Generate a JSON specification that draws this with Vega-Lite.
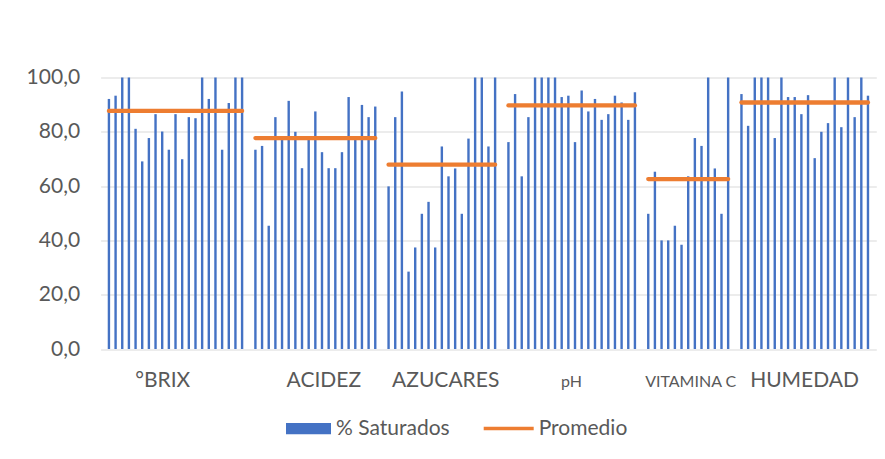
{
  "$schema": "https://vega.github.io/schema/vega-lite/v6.json",
  "autosize": "none",
  "padding": {"left": 100.6, "top": 77.5, "right": 8.7, "bottom": 110},
  "width": 775.7,
  "height": 271.5,
  "background": "white",
  "config": {"view": {"stroke": null}, "font": "Lato"},
  "data": {"values": [
    {"g": "°BRIX", "n": 0, "v": 92.1, "p": 87.7},
    {"g": "°BRIX", "n": 1, "v": 93.3, "p": 87.7},
    {"g": "°BRIX", "n": 2, "v": 100, "p": 87.7},
    {"g": "°BRIX", "n": 3, "v": 100, "p": 87.7},
    {"g": "°BRIX", "n": 4, "v": 81.1, "p": 87.7},
    {"g": "°BRIX", "n": 5, "v": 69.1, "p": 87.7},
    {"g": "°BRIX", "n": 6, "v": 77.7, "p": 87.7},
    {"g": "°BRIX", "n": 7, "v": 86.5, "p": 87.7},
    {"g": "°BRIX", "n": 8, "v": 80.1, "p": 87.7},
    {"g": "°BRIX", "n": 9, "v": 73.4, "p": 87.7},
    {"g": "°BRIX", "n": 10, "v": 86.5, "p": 87.7},
    {"g": "°BRIX", "n": 11, "v": 69.9, "p": 87.7},
    {"g": "°BRIX", "n": 12, "v": 85.4, "p": 87.7},
    {"g": "°BRIX", "n": 13, "v": 85.0, "p": 87.7},
    {"g": "°BRIX", "n": 14, "v": 100, "p": 87.7},
    {"g": "°BRIX", "n": 15, "v": 92.1, "p": 87.7},
    {"g": "°BRIX", "n": 16, "v": 100, "p": 87.7},
    {"g": "°BRIX", "n": 17, "v": 73.4, "p": 87.7},
    {"g": "°BRIX", "n": 18, "v": 90.6, "p": 87.7},
    {"g": "°BRIX", "n": 19, "v": 100, "p": 87.7},
    {"g": "°BRIX", "n": 20, "v": 100, "p": 87.7},
    {"g": "ACIDEZ", "n": 22, "v": 73.4, "p": 77.7},
    {"g": "ACIDEZ", "n": 23, "v": 74.8, "p": 77.7},
    {"g": "ACIDEZ", "n": 24, "v": 45.4, "p": 77.7},
    {"g": "ACIDEZ", "n": 25, "v": 85.4, "p": 77.7},
    {"g": "ACIDEZ", "n": 26, "v": 77.8, "p": 77.7},
    {"g": "ACIDEZ", "n": 27, "v": 91.4, "p": 77.7},
    {"g": "ACIDEZ", "n": 28, "v": 80.0, "p": 77.7},
    {"g": "ACIDEZ", "n": 29, "v": 66.6, "p": 77.7},
    {"g": "ACIDEZ", "n": 30, "v": 77.0, "p": 77.7},
    {"g": "ACIDEZ", "n": 31, "v": 87.5, "p": 77.7},
    {"g": "ACIDEZ", "n": 32, "v": 72.5, "p": 77.7},
    {"g": "ACIDEZ", "n": 33, "v": 66.6, "p": 77.7},
    {"g": "ACIDEZ", "n": 34, "v": 66.6, "p": 77.7},
    {"g": "ACIDEZ", "n": 35, "v": 72.5, "p": 77.7},
    {"g": "ACIDEZ", "n": 36, "v": 92.8, "p": 77.7},
    {"g": "ACIDEZ", "n": 37, "v": 77.5, "p": 77.7},
    {"g": "ACIDEZ", "n": 38, "v": 89.9, "p": 77.7},
    {"g": "ACIDEZ", "n": 39, "v": 85.4, "p": 77.7},
    {"g": "ACIDEZ", "n": 40, "v": 89.3, "p": 77.7},
    {"g": "AZUCARES", "n": 42, "v": 59.9, "p": 67.9},
    {"g": "AZUCARES", "n": 43, "v": 85.4, "p": 67.9},
    {"g": "AZUCARES", "n": 44, "v": 94.8, "p": 67.9},
    {"g": "AZUCARES", "n": 45, "v": 28.5, "p": 67.9},
    {"g": "AZUCARES", "n": 46, "v": 37.4, "p": 67.9},
    {"g": "AZUCARES", "n": 47, "v": 49.8, "p": 67.9},
    {"g": "AZUCARES", "n": 48, "v": 54.2, "p": 67.9},
    {"g": "AZUCARES", "n": 49, "v": 37.4, "p": 67.9},
    {"g": "AZUCARES", "n": 50, "v": 74.6, "p": 67.9},
    {"g": "AZUCARES", "n": 51, "v": 63.6, "p": 67.9},
    {"g": "AZUCARES", "n": 52, "v": 66.5, "p": 67.9},
    {"g": "AZUCARES", "n": 53, "v": 49.8, "p": 67.9},
    {"g": "AZUCARES", "n": 54, "v": 77.5, "p": 67.9},
    {"g": "AZUCARES", "n": 55, "v": 100, "p": 67.9},
    {"g": "AZUCARES", "n": 56, "v": 100, "p": 67.9},
    {"g": "AZUCARES", "n": 57, "v": 74.6, "p": 67.9},
    {"g": "AZUCARES", "n": 58, "v": 100, "p": 67.9},
    {"g": "pH", "n": 60, "v": 76.2, "p": 89.7},
    {"g": "pH", "n": 61, "v": 93.9, "p": 89.7},
    {"g": "pH", "n": 62, "v": 63.6, "p": 89.7},
    {"g": "pH", "n": 63, "v": 85.4, "p": 89.7},
    {"g": "pH", "n": 64, "v": 100, "p": 89.7},
    {"g": "pH", "n": 65, "v": 100, "p": 89.7},
    {"g": "pH", "n": 66, "v": 100, "p": 89.7},
    {"g": "pH", "n": 67, "v": 100, "p": 89.7},
    {"g": "pH", "n": 68, "v": 92.8, "p": 89.7},
    {"g": "pH", "n": 69, "v": 93.3, "p": 89.7},
    {"g": "pH", "n": 70, "v": 76.2, "p": 89.7},
    {"g": "pH", "n": 71, "v": 95.2, "p": 89.7},
    {"g": "pH", "n": 72, "v": 87.5, "p": 89.7},
    {"g": "pH", "n": 73, "v": 92.1, "p": 89.7},
    {"g": "pH", "n": 74, "v": 84.4, "p": 89.7},
    {"g": "pH", "n": 75, "v": 86.5, "p": 89.7},
    {"g": "pH", "n": 76, "v": 93.3, "p": 89.7},
    {"g": "pH", "n": 77, "v": 90.8, "p": 89.7},
    {"g": "pH", "n": 78, "v": 84.4, "p": 89.7},
    {"g": "pH", "n": 79, "v": 94.6, "p": 89.7},
    {"g": "VITAMINA C", "n": 81, "v": 49.8, "p": 62.6},
    {"g": "VITAMINA C", "n": 82, "v": 65.3, "p": 62.6},
    {"g": "VITAMINA C", "n": 83, "v": 40.0, "p": 62.6},
    {"g": "VITAMINA C", "n": 84, "v": 40.0, "p": 62.6},
    {"g": "VITAMINA C", "n": 85, "v": 45.4, "p": 62.6},
    {"g": "VITAMINA C", "n": 86, "v": 38.4, "p": 62.6},
    {"g": "VITAMINA C", "n": 87, "v": 63.6, "p": 62.6},
    {"g": "VITAMINA C", "n": 88, "v": 77.7, "p": 62.6},
    {"g": "VITAMINA C", "n": 89, "v": 74.8, "p": 62.6},
    {"g": "VITAMINA C", "n": 90, "v": 100, "p": 62.6},
    {"g": "VITAMINA C", "n": 91, "v": 66.5, "p": 62.6},
    {"g": "VITAMINA C", "n": 92, "v": 49.8, "p": 62.6},
    {"g": "VITAMINA C", "n": 93, "v": 100, "p": 62.6},
    {"g": "HUMEDAD", "n": 95, "v": 93.9, "p": 90.8},
    {"g": "HUMEDAD", "n": 96, "v": 82.2, "p": 90.8},
    {"g": "HUMEDAD", "n": 97, "v": 100, "p": 90.8},
    {"g": "HUMEDAD", "n": 98, "v": 100, "p": 90.8},
    {"g": "HUMEDAD", "n": 99, "v": 100, "p": 90.8},
    {"g": "HUMEDAD", "n": 100, "v": 77.7, "p": 90.8},
    {"g": "HUMEDAD", "n": 101, "v": 100, "p": 90.8},
    {"g": "HUMEDAD", "n": 102, "v": 92.8, "p": 90.8},
    {"g": "HUMEDAD", "n": 103, "v": 92.8, "p": 90.8},
    {"g": "HUMEDAD", "n": 104, "v": 86.5, "p": 90.8},
    {"g": "HUMEDAD", "n": 105, "v": 93.5, "p": 90.8},
    {"g": "HUMEDAD", "n": 106, "v": 70.3, "p": 90.8},
    {"g": "HUMEDAD", "n": 107, "v": 80.0, "p": 90.8},
    {"g": "HUMEDAD", "n": 108, "v": 83.2, "p": 90.8},
    {"g": "HUMEDAD", "n": 109, "v": 100, "p": 90.8},
    {"g": "HUMEDAD", "n": 110, "v": 81.7, "p": 90.8},
    {"g": "HUMEDAD", "n": 111, "v": 100, "p": 90.8},
    {"g": "HUMEDAD", "n": 112, "v": 85.4, "p": 90.8},
    {"g": "HUMEDAD", "n": 113, "v": 100, "p": 90.8},
    {"g": "HUMEDAD", "n": 114, "v": 93.3, "p": 90.8}
  ]},
  "encoding": {
    "x": {
      "field": "n", "type": "quantitative",
      "scale": {"domain": [-0.5, 114.5], "nice": false, "zero": false},
      "axis": {
        "title": null, "domain": false, "ticks": false, "grid": false,
        "values": [8, 32.2, 50.5, 69.4, 87.3, 104.4],
        "labelExpr": "datum.value < 20 ? '°BRIX' : datum.value < 40 ? 'ACIDEZ' : datum.value < 60 ? 'AZUCARES' : datum.value < 80 ? 'pH' : datum.value < 95 ? 'VITAMINA C' : 'HUMEDAD'",
        "labelFont": "Lato",
        "labelFontSize": {"condition": {"test": "datum.value > 60 && datum.value < 95", "value": 16}, "value": 21},
        "labelColor": "#595959",
        "labelBaseline": "alphabetic",
        "labelPadding": 37,
        "labelOverlap": false,
        "labelBound": false,
        "labelFlush": false
      }
    },
    "y": {
      "type": "quantitative",
      "scale": {"domain": [0, 100], "nice": false},
      "axis": {
        "title": null, "domain": false, "ticks": false,
        "values": [0, 20, 40, 60, 80, 100],
        "labelExpr": "replace(format(datum.value, '.1f'), '.', ',')",
        "labelFont": "Lato", "labelFontSize": 21, "labelColor": "#595959",
        "labelPadding": 21,
        "gridColor": "#d9d9d9", "gridWidth": 1
      }
    }
  },
  "layer": [
    {
      "mark": {"type": "bar", "size": 2.4},
      "encoding": {
        "y": {"field": "v", "type": "quantitative"},
        "fill": {
          "datum": "% Saturados",
          "scale": {"range": ["#4472c4"]},
          "legend": {
            "title": null, "orient": "none", "legendX": 185.4, "legendY": 328.5,
            "symbolType": "M-1,-0.25H1V0.25H-1Z", "symbolSize": 2025,
            "symbolStrokeWidth": 0, "symbolOpacity": 1,
            "labelFont": "Lato", "labelFontSize": 21, "labelColor": "#595959",
            "labelOffset": 5, "padding": 0
          }
        }
      }
    },
    {
      "mark": {"type": "line", "strokeWidth": 4.3, "strokeCap": "round"},
      "encoding": {
        "y": {"field": "p", "type": "quantitative"},
        "detail": {"field": "g"},
        "stroke": {
          "datum": "Promedio",
          "scale": {"range": ["#ed7d31"]},
          "legend": {
            "title": null, "orient": "none", "legendX": 381.1, "legendY": 324,
            "symbolType": "stroke", "symbolSize": 2500, "symbolStrokeWidth": 3.3,
            "labelFont": "Lato", "labelFontSize": 21, "labelColor": "#595959",
            "labelOffset": 3, "padding": 0
          }
        }
      }
    }
  ]
}
